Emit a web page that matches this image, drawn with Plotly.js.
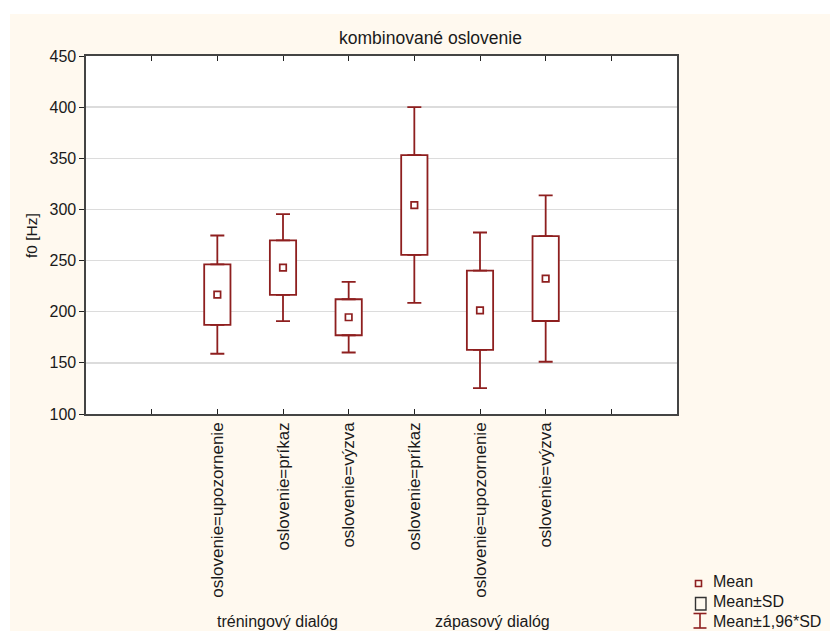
<!DOCTYPE html>
<html>
<head>
<meta charset="utf-8">
<script src="https://cdn.plot.ly/plotly-3.0.1.min.js"></script>
<style>html,body{margin:0;padding:0;background:#fff;}#chart{width:830px;height:631px;}</style>
</head>
<body>
<div id="chart"></div>
<script>
// ---- data ----
const categories = ["oslovenie=upozornenie","oslovenie=príkaz","oslovenie=výzva","oslovenie=príkaz","oslovenie=upozornenie","oslovenie=výzva"];
const groups = ["tréningový dialóg","zápasový dialóg"];
const means = [216.7, 243.1, 194.6, 304.3, 201.4, 232.4];
const sds   = [29.5, 26.7, 17.6, 48.8, 38.8, 41.5];
const yTicks = [100,150,200,250,300,350,400,450];
const legendLabels = ["Mean","Mean±SD","Mean±1,96*SD"];
const zFactor = 1.96;

// ---- layout geometry ----
const W = 830, H = 631;
const M = {l: 86, r: 153, t: 56, b: 217};
const PW = W - M.l - M.r, PH = H - M.t - M.b;
const px = x => (x - M.l) / PW;
const py = y => (H - M.b - y) / PH;

const RED = "#8e1f1f";
const FONT = "Arial";
const TXT = "#1a1a1a";
const xpos = categories.map((_, i) => i + 2);

const boxBase = means.map((m, i) => m - sds[i]);
const boxLen = sds.map(s => 2 * s);
const upperStart = means.map((m, i) => m + sds[i]);
const lowerStart = means.map((m, i) => m - sds[i]);
const whisker = sds.map(s => (zFactor - 1) * s);
const zeros = sds.map(() => 0);

const traces = [
  {type: "bar", x: xpos, y: boxLen, base: boxBase, width: 0.4,
   marker: {color: "#ffffff", line: {color: RED, width: 1.8}}, hoverinfo: "skip", showlegend: false},
  {type: "scatter", mode: "markers", x: xpos, y: upperStart,
   marker: {size: 1, opacity: 0},
   error_y: {type: "data", symmetric: false, array: whisker, arrayminus: zeros, color: RED, thickness: 1.8, width: 7},
   showlegend: false, hoverinfo: "skip"},
  {type: "scatter", mode: "markers", x: xpos, y: lowerStart,
   marker: {size: 1, opacity: 0},
   error_y: {type: "data", symmetric: false, array: zeros, arrayminus: whisker, color: RED, thickness: 1.8, width: 7},
   showlegend: false, hoverinfo: "skip"},
  {type: "scatter", mode: "markers", x: xpos, y: means,
   marker: {symbol: "square-open", size: 6.5, color: RED, line: {color: RED, width: 1.7}},
   showlegend: false, hoverinfo: "skip"}
];

const tickText = [""].concat(categories).concat([""]);

const shapes = [
  {type: "rect", xref: "paper", yref: "paper", layer: "below",
   x0: px(10), x1: px(W + 5), y0: py(H + 5), y1: py(14),
   fillcolor: "#fff9ef", line: {width: 0}},
  {type: "rect", xref: "paper", yref: "paper", layer: "below",
   x0: 0, x1: 1, y0: 0, y1: 1, fillcolor: "#ffffff", line: {width: 0}},
  // legend glyphs
  {type: "rect", xref: "paper", yref: "paper", x0: px(695.5), x1: px(701.5), y0: py(586.5), y1: py(580.5),
   fillcolor: "rgba(0,0,0,0)", line: {color: RED, width: 1.6}},
  {type: "rect", xref: "paper", yref: "paper", x0: px(695.5), x1: px(706), y0: py(610), y1: py(597.5),
   fillcolor: "rgba(0,0,0,0)", line: {color: "#333333", width: 1.4}},
  {type: "line", xref: "paper", yref: "paper", x0: px(700), x1: px(700), y0: py(628), y1: py(613.5),
   line: {color: RED, width: 1.6}},
  {type: "line", xref: "paper", yref: "paper", x0: px(693.5), x1: px(706.5), y0: py(613.5), y1: py(613.5),
   line: {color: RED, width: 1.6}},
  {type: "line", xref: "paper", yref: "paper", x0: px(693.5), x1: px(706.5), y0: py(628), y1: py(628),
   line: {color: RED, width: 1.6}}
];

const ann = (x, y, text, size, opts) => Object.assign({
  xref: "paper", yref: "paper", x: px(x), y: py(y), text: text, showarrow: false,
  font: {family: FONT, size: size, color: TXT}, xanchor: "center", yanchor: "middle"
}, opts || {});

const annotations = [
  ann(430, 38, "kombinované oslovenie", 17.5),
  ann(31, 235, "f0 [Hz]", 15.5, {textangle: -90}),
  ann(277, 621, groups[0], 16),
  ann(492, 621, groups[1], 16),
  ann(711, 581, legendLabels[0], 16, {xanchor: "left"}),
  ann(711, 601, legendLabels[1], 16, {xanchor: "left"}),
  ann(711, 621, legendLabels[2], 16, {xanchor: "left"})
];

const layout = {
  width: W, height: H,
  margin: M,
  paper_bgcolor: "#ffffff",
  plot_bgcolor: "#ffffff",
  showlegend: false,
  barmode: "overlay",
  xaxis: {
    range: [0, 9], tickmode: "array", tickvals: [1,2,3,4,5,6,7,8], ticktext: tickText,
    tickangle: -90, ticks: "inside", ticklen: 5, tickwidth: 1, tickcolor: "#222",
    showline: true, linecolor: "#444", linewidth: 1.6, mirror: "ticks",
    showgrid: false, zeroline: false,
    tickfont: {family: FONT, size: 17, color: TXT}, fixedrange: true
  },
  yaxis: {
    range: [100, 450], tickmode: "array", tickvals: yTicks,
    ticks: "outside", ticklen: 5, tickwidth: 1, tickcolor: "#222",
    showline: true, linecolor: "#444", linewidth: 1.6, mirror: true,
    showgrid: true, gridcolor: "#dcdcdc", gridwidth: 1.5, zeroline: false,
    tickfont: {family: FONT, size: 16, color: TXT}, fixedrange: true
  },
  yaxis2: {
    overlaying: "y", side: "right", anchor: "x", range: [100, 450], tickmode: "array", tickvals: yTicks,
    ticks: "inside", ticklen: 5, tickwidth: 1, tickcolor: "#222",
    showticklabels: false, showgrid: false, zeroline: false, showline: false, fixedrange: true
  },
  shapes: shapes,
  annotations: annotations
};

Plotly.newPlot("chart", traces, layout, {staticPlot: true, displayModeBar: false});
</script>
</body>
</html>
